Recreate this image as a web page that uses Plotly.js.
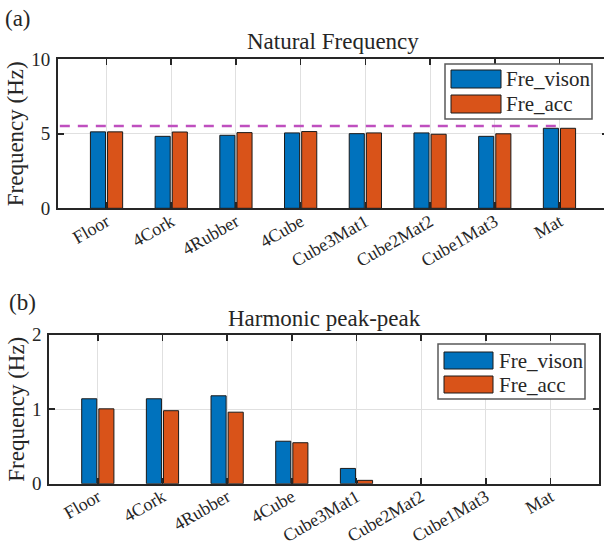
<!DOCTYPE html>
<html>
<head>
<meta charset="utf-8">
<script src="https://cdn.plot.ly/plotly-3.0.1.min.js"></script>
<style>
html,body{margin:0;padding:0;overflow:hidden;background:#fff;}
#chart{width:612px;height:549px;}
</style>
</head>
<body>
<div id="chart"></div>
<script>
// ---- data ----
const categories = ['Floor','4Cork','4Rubber','4Cube','Cube3Mat1','Cube2Mat2','Cube1Mat3','Mat'];
const seriesNames = ['Fre_vison','Fre_acc'];
const naturalVision = [5.13, 4.83, 4.90, 5.06, 5.01, 5.06, 4.83, 5.37];
const naturalAcc    = [5.13, 5.12, 5.08, 5.15, 5.06, 4.97, 5.00, 5.37];
const naturalRef = 5.53;
const harmonicVision = [1.14, 1.14, 1.18, 0.57, 0.205, 0, 0, 0];
const harmonicAcc    = [1.005, 0.98, 0.96, 0.55, 0.045, 0, 0, 0];
const panelTitles = ['Natural Frequency','Harmonic peak-peak'];
const panelTags = ['(a)','(b)'];
const yTitle = 'Frequency (Hz)';

// ---- styling ----
const W = 612, H = 549;
const blue = '#0072BD', orange = '#D95319';
const axCol = '#262626';
const serifFamily = 'Liberation Serif, DejaVu Serif, serif';
const px = v => v / W;
const py = v => 1 - v / H;
const xpos = categories.map((c, i) => i + 1);

function bar(x, y, name, color, xa, ya) {
  return {type: 'bar', x: x, y: y, name: name, xaxis: xa, yaxis: ya,
    marker: {color: color, line: {color: '#1a1a1a', width: y.map(v => v > 0 ? 1 : 0)}}, showlegend: false};
}

const traces = [
  bar(xpos, naturalVision, seriesNames[0], blue, 'x', 'y'),
  bar(xpos, naturalAcc, seriesNames[1], orange, 'x', 'y'),
  {type: 'scatter', mode: 'lines', x: [0, xpos[xpos.length - 1]], y: [naturalRef, naturalRef],
   xaxis: 'x', yaxis: 'y', line: {color: '#BF4FBF', width: 2.5, dash: '10px,8px'}, showlegend: false, hoverinfo: 'skip'},
  bar(xpos, harmonicVision, seriesNames[0], blue, 'x2', 'y2'),
  bar(xpos, harmonicAcc, seriesNames[1], orange, 'x2', 'y2')
];

function xaxis(domain, anchor) {
  return {domain: domain, anchor: anchor, range: [0.25, 8.75], tickmode: 'array',
    tickvals: xpos, ticktext: categories, tickangle: -30,
    ticks: 'inside', ticklen: 6, tickwidth: 1.5, tickcolor: axCol,
    showline: true, linewidth: 2, linecolor: axCol, mirror: 'ticks',
    showgrid: true, gridcolor: '#e0e0e0', gridwidth: 1, zeroline: false,
    tickfont: {family: serifFamily, size: 18, color: axCol}, ticklabelstandoff: -6,
    automargin: false, fixedrange: true};
}
function yaxis(domain, anchor, range, dtick) {
  return {domain: domain, anchor: anchor, range: range, dtick: dtick, tick0: 0,
    ticks: 'inside', ticklen: 6, tickwidth: 1.5, tickcolor: axCol,
    showline: true, linewidth: 2, linecolor: axCol, mirror: 'ticks',
    showgrid: true, gridcolor: '#e0e0e0', gridwidth: 1, zeroline: false,
    tickfont: {family: serifFamily, size: 19, color: axCol}, ticklabelstandoff: 2,
    title: {text: yTitle, font: {family: serifFamily, size: 23, color: axCol}, standoff: 1},
    automargin: false, fixedrange: true};
}

const shapes = [];
const annotations = [];
function legend(x0, y0, x1, y1, patchX0, patchX1, rows, textX) {
  shapes.push({type: 'rect', xref: 'paper', yref: 'paper', x0: px(x0), x1: px(x1), y0: py(y0), y1: py(y1),
    line: {color: '#5a5a5a', width: 1.5}, fillcolor: '#ffffff', layer: 'above'});
  const cols = [blue, orange];
  rows.forEach((r, i) => {
    shapes.push({type: 'rect', xref: 'paper', yref: 'paper', x0: px(patchX0), x1: px(patchX1),
      y0: py(r[0]), y1: py(r[1]), line: {color: '#1a1a1a', width: 1}, fillcolor: cols[i], layer: 'above'});
    annotations.push({xref: 'paper', yref: 'paper', x: px(textX), y: py((r[0] + r[1]) / 2),
      xanchor: 'left', yanchor: 'middle', showarrow: false, text: seriesNames[i],
      font: {family: serifFamily, size: 21, color: axCol}});
  });
}
legend(445, 64, 592, 119, 451, 501, [[70, 88], [95, 113]], 504);
legend(438, 344, 585, 399, 444, 493, [[352, 369], [376, 393]], 497);

function txt(x, y, text, size, anchor) {
  annotations.push({xref: 'paper', yref: 'paper', x: px(x), y: py(y), xanchor: anchor || 'center',
    yanchor: 'middle', showarrow: false, text: text, font: {family: serifFamily, size: size, color: axCol}});
}
txt(333, 42, panelTitles[0], 23);
txt(324, 318, panelTitles[1], 23);
txt(3, 18, panelTags[0], 23, 'left');
txt(7, 302, panelTags[1], 23, 'left');

const layout = {
  width: W, height: H, margin: {l: 0, r: 0, t: 0, b: 0},
  font: {family: serifFamily, color: axCol},
  paper_bgcolor: '#fff', plot_bgcolor: '#fff',
  barmode: 'group', bargap: 0.47, bargroupgap: 0.12,
  showlegend: false,
  xaxis: xaxis([px(58), px(608)], 'y'),
  yaxis: yaxis([py(208.3), py(59.3)], 'x', [0, 10], 5),
  xaxis2: xaxis([px(49.3), px(599)], 'y2'),
  yaxis2: yaxis([py(483.7), py(334.7)], 'x2', [0, 2], 1),
  shapes: shapes, annotations: annotations
};

Plotly.newPlot('chart', traces, layout, {staticPlot: true, displayModeBar: false});
</script>
</body>
</html>
